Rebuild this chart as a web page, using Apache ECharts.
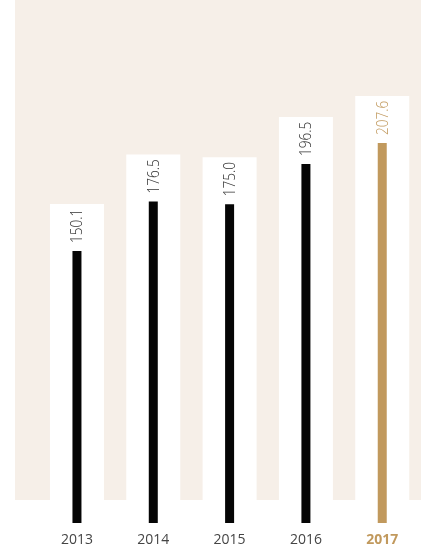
<!DOCTYPE html>
<html>
<head>
<meta charset="utf-8">
<script src="https://cdn.jsdelivr.net/npm/echarts@6/dist/echarts.min.js"></script>
<style>
html,body{margin:0;padding:0;background:#fff;}
#c{width:421px;height:549px;}
</style>
</head>
<body>
<div id="c"></div>
<script>
const years = ['2013', '2014', '2015', '2016', '2017'];
const values = [150.1, 176.5, 175.0, 196.5, 207.6];
const highlightIndex = 4;

const BLACK = '#050505';
const GOLD = '#c1995d';
const BEIGE = '#f6efe8';
const AXIS_MIN = 5.3;

const chart = echarts.init(document.getElementById('c'), null, {renderer: 'canvas'});

const option = {
  animation: false,
  backgroundColor: '#ffffff',
  graphic: [{
    type: 'rect',
    z: 0,
    silent: true,
    shape: {x: 15, y: 0, width: 406, height: 500},
    style: {fill: BEIGE}
  }],
  grid: {left: 38.8, right: 0.6, top: 0, bottom: 26, containLabel: false},
  xAxis: {
    type: 'category',
    data: years,
    axisLine: {show: false},
    axisTick: {show: false},
    axisLabel: {
      interval: 0,
      margin: 10,
      fontSize: 14,
      fontFamily: '"Open Sans", sans-serif',
      color: '#454545',
      formatter: function (v, i) {
        return i === highlightIndex ? '{hl|' + v + '}' : v;
      },
      rich: {
        hl: {fontSize: 14, fontWeight: 'bold', color: GOLD, fontFamily: '"Open Sans", sans-serif'}
      }
    }
  },
  yAxis: {
    type: 'value',
    min: AXIS_MIN,
    max: 283.8,
    show: false,
    splitLine: {show: false}
  },
  series: [
    {
      type: 'custom',
      z: 1,
      silent: true,
      data: values.map((v, i) => [i, v]),
      renderItem: function (params, api) {
        const top = api.coord([api.value(0), api.value(1)]);
        const bottom = api.coord([api.value(0), AXIS_MIN]);
        const w = 54;
        const ext = 47;
        return {
          type: 'rect',
          shape: {x: top[0] - w / 2, y: top[1] - ext, width: w, height: bottom[1] - top[1] + ext},
          style: {fill: '#ffffff'}
        };
      }
    },
    {
      type: 'bar',
      z: 2,
      barWidth: 9,
      data: values.map((v, i) => ({
        value: v,
        itemStyle: {color: i === highlightIndex ? GOLD : BLACK}
      }))
    },
    {
      type: 'custom',
      z: 3,
      silent: true,
      data: values.map((v, i) => [i, v]),
      renderItem: function (params, api) {
        const idx = params.dataIndex;
        const top = api.coord([api.value(0), api.value(1)]);
        return {
          type: 'text',
          x: top[0] + 0.5,
          y: top[1] - 8,
          rotation: Math.PI / 2,
          scaleX: 0.8,
          style: {
            text: api.value(1).toFixed(1),
            fontSize: 17,
            fontWeight: 300,
            fontFamily: '"Open Sans", sans-serif',
            fill: idx === highlightIndex ? GOLD : '#333333',
            align: 'left',
            verticalAlign: 'middle'
          }
        };
      }
    }
  ]
};
chart.setOption(option);
</script>
</body>
</html>
